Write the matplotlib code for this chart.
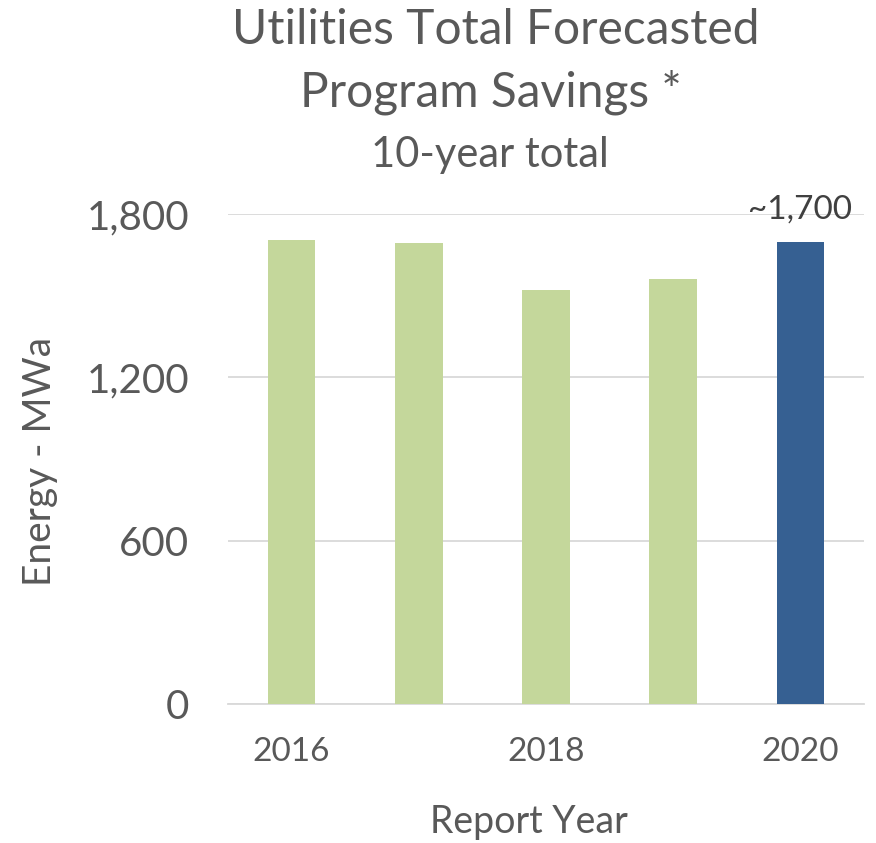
import matplotlib
matplotlib.use("Agg")
import matplotlib.pyplot as plt

plt.rcParams['font.family'] = ['Lato', 'DejaVu Sans']

years = ["2016", "2017", "2018", "2019", "2020"]
values = [1705, 1693, 1520, 1560, 1697]
colors = ["#C4D79B", "#C4D79B", "#C4D79B", "#C4D79B", "#366092"]
tick_labels = ["2016", "", "2018", "", "2020"]
yticks = [0, 600, 1200, 1800]
annotation = "~1,700"

fig = plt.figure(figsize=(8.76, 8.43), dpi=100)
ax = fig.add_axes([228/876, 1 - 704/843, (864-228)/876, (704-214)/843])

x = list(range(len(years)))
ax.bar(x, values, width=0.375, color=colors, zorder=3)
ax.set_xlim(-0.5, 4.5)
ax.set_ylim(0, 1800)
ax.set_yticks(yticks)
ax.set_yticklabels([f"{v:,}" for v in yticks], fontsize=29, color="#595959")
ax.set_xticks(x)
ax.set_xticklabels(tick_labels, fontsize=24, color="#595959")
ax.tick_params(axis='both', length=0)
ax.tick_params(axis='x', pad=24)
ax.tick_params(axis='y', pad=28)
ax.grid(axis='y', color="#D9D9D9", linewidth=1.3, zorder=0)
for s in ["top", "right", "left"]:
    ax.spines[s].set_visible(False)
ax.spines["bottom"].set_color("#D9D9D9")
ax.spines["bottom"].set_linewidth(1.3)

ax.text(4, values[4] + 65, annotation, ha='center', va='bottom', fontsize=24, color="#404040")

ax.set_xlabel("Report Year", fontsize=27, color="#595959")
ax.xaxis.set_label_coords((529-228)/(864-228), -(822-704)/(704-214))
ax.xaxis.label.set_va('center')
ax.set_ylabel("Energy - MWa", fontsize=28, color="#595959")
ax.yaxis.set_label_coords(-(228-40)/(864-228), (704-461)/(704-214))
ax.yaxis.label.set_va('center')

fig.text(496/876, 1 - 30/843, "Utilities Total Forecasted", ha='center', va='center', fontsize=34.5, color="#595959")
fig.text(491/876, 1 - 92/843, "Program Savings *", ha='center', va='center', fontsize=34.5, color="#595959")
fig.text(490/876, 1 - 155/843, "10-year total", ha='center', va='center', fontsize=30, color="#595959")

fig.savefig("out.png", dpi=100)
